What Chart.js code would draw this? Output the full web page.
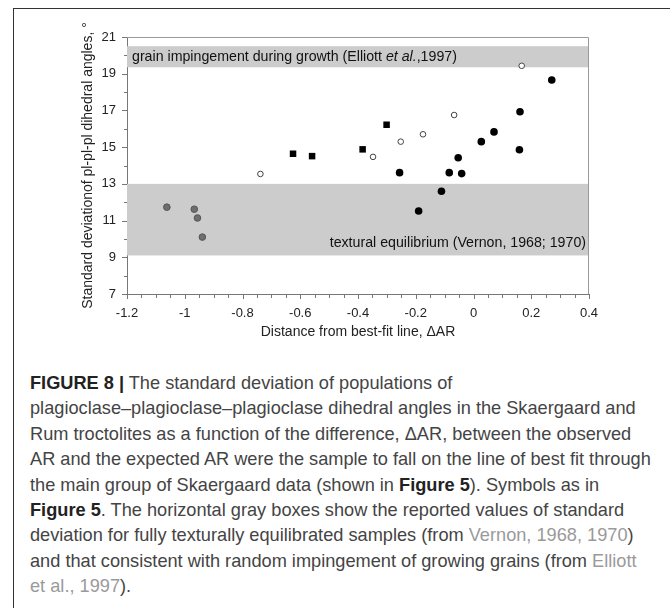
<!DOCTYPE html>
<html>
<head>
<meta charset="utf-8">
<script src="https://cdn.jsdelivr.net/npm/chart.js@4"></script>
<style>
  body { margin: 0; width: 670px; height: 608px; background: #fff; position: relative; overflow: hidden; }
  #frame { position: absolute; left: 13px; top: 8px; right: -2px; bottom: -2px; border-left: 1.5px solid #333; border-top: 1.5px solid #333; }
  #chartBox { position: absolute; left: 0; top: 0; width: 670px; height: 360px; }
  #caption { position: absolute; left: 30px; top: 371px; font-family: "Liberation Sans", Arial, sans-serif; font-size: 18.2px; line-height: 25.4px; color: #444; white-space: nowrap; }
  #caption b { color: #222; }
  #caption .ref { color: #9a9a9a; }
</style>
</head>
<body>
<div id="frame"></div>
<div id="chartBox"><canvas id="myChart" width="670" height="360"></canvas></div>
<div id="caption">
  <b>FIGURE 8 |</b> The standard deviation of populations of<br>
  plagioclase–plagioclase–plagioclase dihedral angles in the Skaergaard and<br>
  Rum troctolites as a function of the difference, ΔAR, between the observed<br>
  AR and the expected AR were the sample to fall on the line of best fit through<br>
  the main group of Skaergaard data (shown in <b>Figure 5</b>). Symbols as in<br>
  <b>Figure 5</b>. The horizontal gray boxes show the reported values of standard<br>
  deviation for fully texturally equilibrated samples (from <span class="ref">Vernon, 1968, 1970</span>)<br>
  and that consistent with random impingement of growing grains (from <span class="ref">Elliott</span><br>
  <span class="ref">et al., 1997</span>).
</div>
<script>
// data
const grayX = [-1.062, -0.967, -0.956, -0.939];
const grayY = [11.73, 11.62, 11.14, 10.1];

const openX = [-0.738, -0.348, -0.252, -0.175, -0.067, 0.167];
const openY = [13.54, 14.47, 15.3, 15.7, 16.75, 19.43];

const squareX = [-0.625, -0.559, -0.384, -0.301];
const squareY = [14.64, 14.51, 14.88, 16.22];

const filledX = [-0.256, -0.19, -0.111, -0.084, -0.053, -0.041, 0.027, 0.071, 0.159, 0.161, 0.271];
const filledY = [13.61, 11.52, 12.6, 13.61, 14.42, 13.56, 15.3, 15.83, 14.86, 16.93, 18.66];

const xTicks = [-1.2, -1, -0.8, -0.6, -0.4, -0.2, 0, 0.2, 0.4];
const yTicks = [7, 9, 11, 13, 15, 17, 19, 21];

// gray boxes [from, to]
const bandEquil = [9.1, 13];
const bandImping = [19.35, 20.5];

const toPoints = (xs, ys) => xs.map((x, i) => ({ x: x, y: ys[i] }));

const FONT = "'Liberation Sans', Arial, sans-serif";

const bandsPlugin = {
  id: "bands",
  beforeDatasetsDraw(chart) {
    const { ctx, chartArea: a, scales: { x, y } } = chart;
    ctx.save();
    ctx.fillStyle = "#cccccc";
    [bandEquil, bandImping].forEach((b) => {
      const top = y.getPixelForValue(b[1]);
      const bot = y.getPixelForValue(b[0]);
      ctx.fillRect(a.left, top, a.right - a.left, bot - top);
    });

    // plot frame (top + right are light gray)
    ctx.strokeStyle = "#999";
    ctx.lineWidth = 1;
    ctx.beginPath();
    ctx.moveTo(a.left, a.top + 0.5);
    ctx.lineTo(a.right - 0.5, a.top + 0.5);
    ctx.lineTo(a.right - 0.5, a.bottom);
    ctx.stroke();

    // tick marks
    ctx.strokeStyle = "#777";
    ctx.beginPath();
    for (let v = yTicks[0]; v <= yTicks[yTicks.length - 1]; v += 1) {
      const py = Math.round(y.getPixelForValue(v)) + 0.5;
      const len = yTicks.includes(v) ? 5 : 3;
      ctx.moveTo(a.left - len, py);
      ctx.lineTo(a.left, py);
    }
    for (let i = 0; i <= 32; i++) {
      const v = xTicks[0] + i * 0.05;
      const px = Math.round(x.getPixelForValue(v)) + 0.5;
      ctx.moveTo(px, a.bottom);
      ctx.lineTo(px, a.bottom + (i % 4 === 0 ? 5 : 4));
    }
    ctx.stroke();

    // band labels
    ctx.fillStyle = "#111";
    ctx.textBaseline = "middle";
    let tx = a.left + 5;
    const ty = (y.getPixelForValue(bandImping[0]) + y.getPixelForValue(bandImping[1])) / 2;
    const parts = [["grain impingement during growth (Elliott ", ""], ["et al.", "italic "], [",1997)", ""]];
    ctx.textAlign = "left";
    parts.forEach((p) => {
      ctx.font = p[1] + "14.2px " + FONT;
      ctx.fillText(p[0], tx, ty);
      tx += ctx.measureText(p[0]).width;
    });
    ctx.font = "14.2px " + FONT;
    ctx.textAlign = "right";
    ctx.fillText("textural equilibrium (Vernon, 1968; 1970)", a.right - 3, y.getPixelForValue(bandEquil[0]) - 12);
    ctx.restore();
  },
};

const ctx = document.getElementById("myChart");

new Chart(ctx, {
  type: "scatter",
  data: {
    datasets: [
      {
        data: toPoints(grayX, grayY),
        pointStyle: "circle",
        pointRadius: 3.3,
        backgroundColor: "#6e6e6e",
        borderColor: "#555",
        borderWidth: 1,
      },
      {
        data: toPoints(openX, openY),
        pointStyle: "circle",
        pointRadius: 2.8,
        backgroundColor: "#fff",
        borderColor: "#444",
        borderWidth: 1,
      },
      {
        data: toPoints(squareX, squareY),
        pointStyle: "rect",
        pointRadius: 4.6,
        backgroundColor: "#000",
        borderColor: "#000",
        borderWidth: 0,
      },
      {
        data: toPoints(filledX, filledY),
        pointStyle: "circle",
        pointRadius: 3.8,
        backgroundColor: "#000",
        borderColor: "#000",
        borderWidth: 0,
      },
    ],
  },
  options: {
    responsive: false,
    animation: false,
    events: [],
    layout: { padding: { left: 80, top: 37, right: 81, bottom: 0 } },
    plugins: { legend: { display: false }, tooltip: { enabled: false } },
    scales: {
      x: {
        type: "linear",
        min: xTicks[0],
        max: xTicks[xTicks.length - 1],
        afterBuildTicks: (scale) => { scale.ticks = xTicks.map((v) => ({ value: v })); },
        afterFit: (scale) => { scale.height = 66; },
        grid: { display: false, drawTicks: false },
        border: { display: true, color: "#777", width: 1 },
        ticks: {
          color: "#222",
          font: { family: FONT, size: 13 },
          padding: 12,
          maxRotation: 0,
          autoSkip: false,
          callback: (v) => String(v),
        },
        title: {
          display: true,
          text: "Distance from best-fit line, ΔAR",
          color: "#222",
          font: { family: FONT, size: 14 },
          padding: { top: 0, bottom: 19 },
        },
      },
      y: {
        type: "linear",
        min: yTicks[0],
        max: yTicks[yTicks.length - 1],
        afterBuildTicks: (scale) => { scale.ticks = yTicks.map((v) => ({ value: v })); },
        afterFit: (scale) => { scale.width = 47; },
        grid: { display: false, drawTicks: false },
        border: { display: true, color: "#777", width: 1 },
        ticks: {
          color: "#222",
          font: { family: FONT, size: 13 },
          padding: 11,
        },
        title: {
          display: true,
          text: "Standard deviationof pl-pl-pl dihedral angles, °",
          color: "#222",
          font: { family: FONT, size: 14 },
          padding: { top: 0, bottom: 0 },
        },
      },
    },
  },
  plugins: [bandsPlugin],
});
</script>
</body>
</html>
